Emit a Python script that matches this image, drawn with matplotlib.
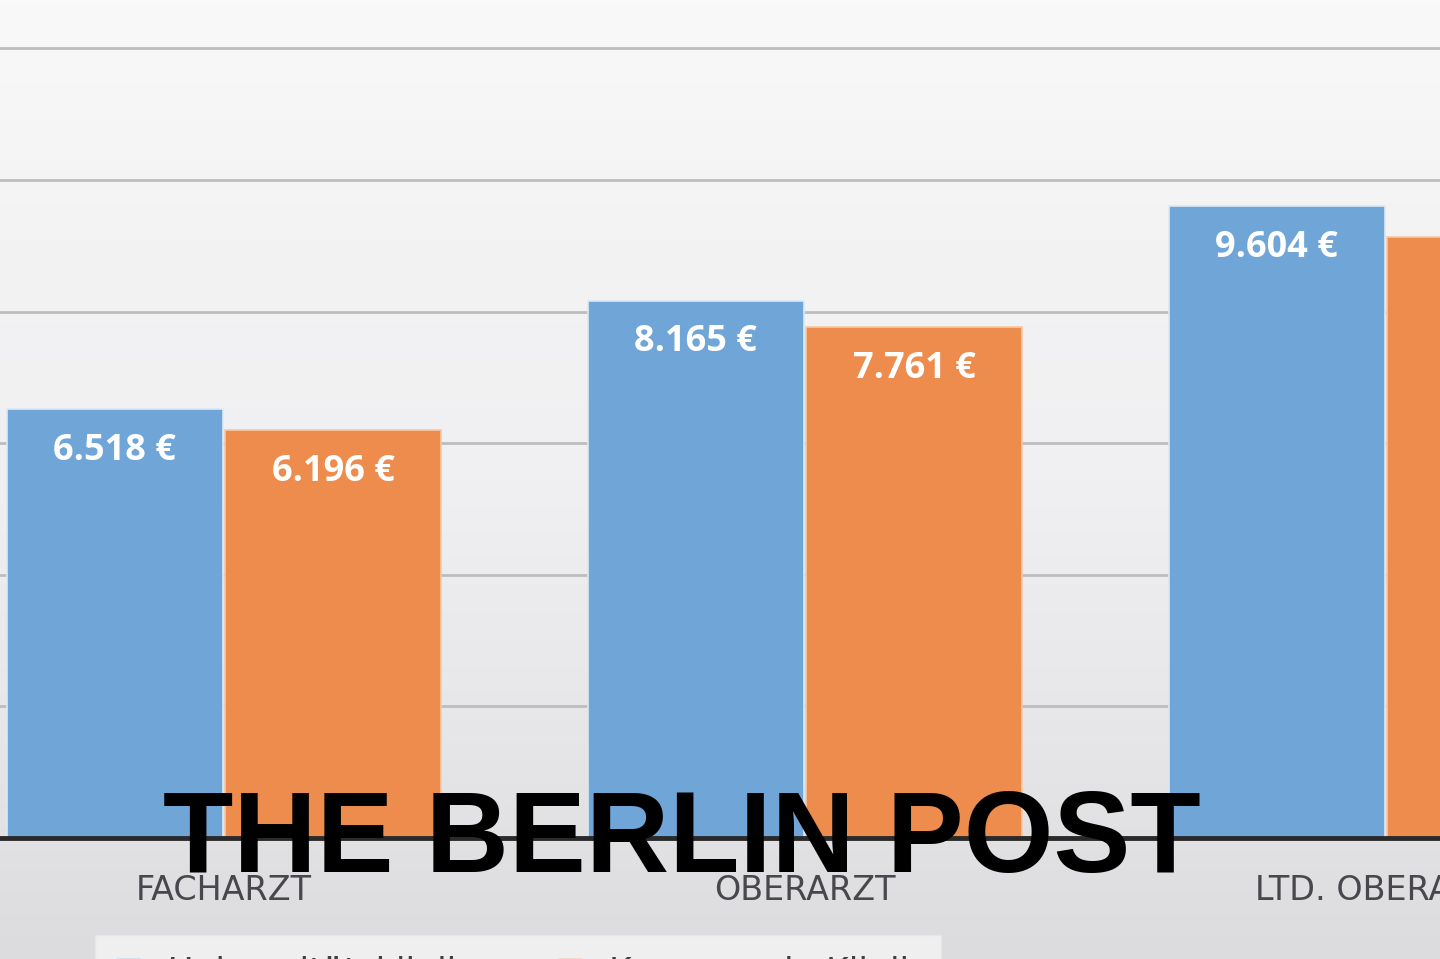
import numpy as np
import matplotlib.pyplot as plt
from matplotlib.patches import Patch
from matplotlib.colors import LinearSegmentedColormap

# monthly salary, euros
categories = ["FACHARZT", "OBERARZT", "LTD. OBERARZT"]
uni_values = [6518, 8165, 9604]
komm_values = [6196, 7761, 9134]   # last one is cut off in the picture, estimated
series_names = ["Universitätsklinik", "Kommunale Klinik"]

blue = "#6fa6d7"
orange = "#ed8c4c"

fig = plt.figure(figsize=(14.4, 9.59), dpi=100)

# soft grey gradient behind everything
bg = fig.add_axes([0, 0, 1, 1], zorder=-10)
grad = np.linspace(0, 1, 256).reshape(-1, 1)
cmap = LinearSegmentedColormap.from_list("bg", ["#dcdcde", "#e7e7e9", "#f0f0f2", "#f3f3f4", "#f9f9f9"])
bg.imshow(grad, aspect="auto", cmap=cmap, origin="lower", extent=[0, 1, 0, 1])
bg.axis("off")

ax = fig.add_axes([0, 121 / 959, 1, 838 / 959])
ax.patch.set_alpha(0)

x = np.arange(len(categories))
w = 0.372
b1 = ax.bar(x - 0.188, uni_values, w, color=blue, edgecolor="#dce9f5", linewidth=1.2, zorder=3)
b2 = ax.bar(x + 0.188, komm_values, w, color=orange, edgecolor="#f6c9a8", linewidth=1.2, zorder=3)

def fmt(v):
    return "{:,}".format(v).replace(",", ".") + " €"

for bars, vals in [(b1, uni_values), (b2, komm_values)]:
    for rect, v in zip(bars, vals):
        ax.annotate(fmt(v), (rect.get_x() + rect.get_width() / 2, v), xytext=(0, -30),
                    textcoords="offset points", ha="center", va="center",
                    color="white", fontsize=26, fontweight="bold",
                    family=["Open Sans", "DejaVu Sans"], zorder=5)

ax.set_xlim(-0.3855, 2.093)
ax.set_ylim(0, 12736)
ax.set_yticks(range(2000, 12001, 2000))
ax.yaxis.grid(True, color="#bdbdbf", linewidth=2, zorder=0)
ax.tick_params(axis="y", left=False, labelleft=False)
ax.set_xticks(x)
ax.set_xticklabels(categories, fontsize=24, color="#47474d", fontweight="medium",
                   family=["Liberation Sans Narrow", "DejaVu Sans"])
ax.tick_params(axis="x", length=0, pad=26)
for s in ["top", "right", "left"]:
    ax.spines[s].set_visible(False)
ax.spines["bottom"].set_color("#2a2a2a")
ax.spines["bottom"].set_linewidth(3.5)
ax.spines["bottom"].set_zorder(4)

# legend, mostly cut off by the lower edge
handles = [Patch(color=blue), Patch(color=orange)]
fig.legend(handles, series_names, loc="upper left", bbox_to_anchor=(95 / 1440, 1 - 935 / 959),
           borderaxespad=0, ncol=2, fontsize=25, frameon=True, facecolor="#efeff0",
           edgecolor="#e6e6e8", framealpha=1, fancybox=False, borderpad=0.6, columnspacing=2.6,
           handlelength=0.7, handleheight=0.7, labelcolor="#404040")

# watermark
fig.text(163 / 1440, 1 - 872 / 959, "THE BERLIN POST", fontsize=83, fontweight="bold",
         color="black", family=["Liberation Sans", "DejaVu Sans"], ha="left", va="baseline",
         zorder=20)

fig.savefig("out.png", dpi=100)
